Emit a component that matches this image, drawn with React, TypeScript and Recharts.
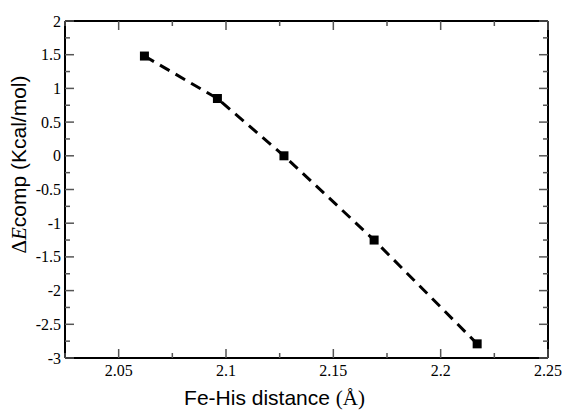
import React from 'react';
import { LineChart, Line, XAxis, YAxis, Label } from 'recharts';

const distances = [2.062, 2.096, 2.127, 2.169, 2.217];
const energies = [1.48, 0.85, 0.0, -1.25, -2.79];

const xMajorTicks = [2.05, 2.1, 2.15, 2.2, 2.25];
const xMajorLabels = ['2.05', '2.1', '2.15', '2.2', '2.25'];
const xMinorTicks = [2.025, 2.075, 2.125, 2.175, 2.225];

const yMajorTicks = [-3, -2.5, -2, -1.5, -1, -0.5, 0, 0.5, 1, 1.5, 2];
const yMajorLabels = ['-3', '-2.5', '-2', '-1.5', '-1', '-0.5', '0', '0.5', '1', '1.5', '2'];
const yMinorTicks = [-2.75, -2.25, -1.75, -1.25, -0.75, -0.25, 0.25, 0.75, 1.25, 1.75];

const data = distances.map((d, i) => ({ x: d, y: energies[i] }));

const xTicks = [...xMajorTicks, ...xMinorTicks].sort((a, b) => a - b);
const yTicks = [...yMajorTicks, ...yMinorTicks].sort((a, b) => a - b);

const X_DOMAIN: [number, number] = [2.025, 2.25];
const Y_DOMAIN: [number, number] = [-3, 2];

const MAJOR = 9;
const MINOR = 5;
const TICK_COLOR = '#555';
const TICK_W = 1.5;
const SERIF = '"Liberation Serif", "Times New Roman", Times, serif';
const SANS = '"Liberation Sans", Arial, Helvetica, sans-serif';

const majorIndex = (list: number[], v: number) => list.findIndex((t) => Math.abs(t - v) < 1e-6);

const renderBottomTick = (props: any) => {
  const { x, y, payload, index } = props;
  const idx = majorIndex(xMajorTicks, payload.value);
  const len = idx >= 0 ? MAJOR : MINOR;
  return (
    <g key={`bt-${index}`}>
      <line x1={x} x2={x} y1={y} y2={y - len} stroke={TICK_COLOR} strokeWidth={TICK_W} />
      {idx >= 0 && (
        <text x={x} y={y + 18} textAnchor="middle" style={{ fontFamily: SERIF, fontSize: 16 }} fill="#000">
          {xMajorLabels[idx]}
        </text>
      )}
    </g>
  );
};

const renderTopTick = (props: any) => {
  const { x, y, payload, index } = props;
  const idx = majorIndex(xMajorTicks, payload.value);
  const len = idx >= 0 ? MAJOR : MINOR;
  return <line key={`tt-${index}`} x1={x} x2={x} y1={y} y2={y + len} stroke={TICK_COLOR} strokeWidth={TICK_W} />;
};

const renderLeftTick = (props: any) => {
  const { x, y, payload, index } = props;
  const idx = majorIndex(yMajorTicks, payload.value);
  const len = idx >= 0 ? MAJOR : MINOR;
  return (
    <g key={`lt-${index}`}>
      <line x1={x} x2={x + len} y1={y} y2={y} stroke={TICK_COLOR} strokeWidth={TICK_W} />
      {idx >= 0 && (
        <text x={x - 4} y={y + 5.5} textAnchor="end" style={{ fontFamily: SERIF, fontSize: 16 }} fill="#000">
          {yMajorLabels[idx]}
        </text>
      )}
    </g>
  );
};

const renderRightTick = (props: any) => {
  const { x, y, payload, index } = props;
  const idx = majorIndex(yMajorTicks, payload.value);
  const len = idx >= 0 ? MAJOR : MINOR;
  return <line key={`rt-${index}`} x1={x} x2={x - len} y1={y} y2={y} stroke={TICK_COLOR} strokeWidth={TICK_W} />;
};

const SquareDot = (props: any) => {
  const { cx, cy, index } = props;
  if (cx == null || cy == null) return null;
  return <rect key={`d-${index}`} x={cx - 4.5} y={cy - 4.5} width={9} height={9} fill="#000" />;
};

const XTitle = (props: any) => {
  const vb = props.viewBox;
  return (
    <text x={vb.x + vb.width / 2 - 32} y={vb.y + 47} textAnchor="middle" style={{ fontSize: 21 }} fill="#000">
      <tspan style={{ fontFamily: SANS }}>Fe-His distance </tspan>
      <tspan style={{ fontFamily: SERIF }}>(Å)</tspan>
    </text>
  );
};

const YTitle = (props: any) => {
  const vb = props.viewBox;
  const cx = vb.x + 26;
  const cy = vb.y + vb.height / 2 - 25;
  return (
    <text
      x={cx}
      y={cy}
      transform={`rotate(-90 ${cx} ${cy})`}
      textAnchor="middle"
      style={{ fontSize: 21 }}
      fill="#000"
    >
      <tspan style={{ fontFamily: SERIF }}>Δ</tspan>
      <tspan style={{ fontFamily: SERIF, fontStyle: 'italic' }}>E</tspan>
      <tspan style={{ fontFamily: SANS }}>comp (Kcal/mol)</tspan>
    </text>
  );
};

export default function App() {
  return (
    <div style={{ position: 'absolute', left: 0, top: 0, background: '#fff' }}>
      <LineChart width={564} height={415} data={data} margin={{ top: 20, right: 15, left: 0, bottom: 0 }}>
        <XAxis
          dataKey="x"
          type="number"
          domain={X_DOMAIN}
          ticks={xTicks}
          interval={0}
          allowDataOverflow
          height={57}
          tickSize={0}
          tickMargin={0}
          tickLine={false}
          tick={renderBottomTick}
          axisLine={{ stroke: '#000', strokeWidth: 2 }}
        >
          <Label content={<XTitle />} />
        </XAxis>
        <XAxis
          xAxisId="top"
          dataKey="x"
          orientation="top"
          type="number"
          domain={X_DOMAIN}
          ticks={xTicks}
          interval={0}
          allowDataOverflow
          height={1}
          tickSize={0}
          tickMargin={0}
          tickLine={false}
          tick={renderTopTick}
          axisLine={{ stroke: '#000', strokeWidth: 2 }}
        />
        <YAxis
          type="number"
          domain={Y_DOMAIN}
          ticks={yTicks}
          interval={0}
          allowDataOverflow
          width={65}
          tickSize={0}
          tickMargin={0}
          tickLine={false}
          tick={renderLeftTick}
          axisLine={{ stroke: '#000', strokeWidth: 2 }}
        >
          <Label content={<YTitle />} />
        </YAxis>
        <YAxis
          yAxisId="right"
          orientation="right"
          type="number"
          domain={Y_DOMAIN}
          ticks={yTicks}
          interval={0}
          allowDataOverflow
          width={1}
          tickSize={0}
          tickMargin={0}
          tickLine={false}
          tick={renderRightTick}
          axisLine={{ stroke: '#000', strokeWidth: 2 }}
        />
        <Line
          dataKey="y"
          stroke="#000"
          strokeWidth={3}
          strokeDasharray="11 7"
          dot={<SquareDot />}
          activeDot={false}
          isAnimationActive={false}
        />
      </LineChart>
    </div>
  );
}
